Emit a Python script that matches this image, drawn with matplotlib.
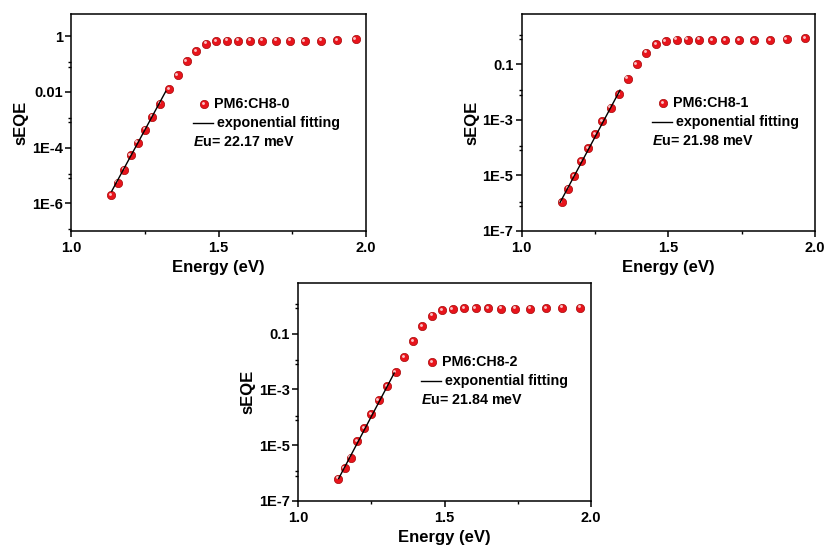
import matplotlib
matplotlib.use("Agg")
import matplotlib.pyplot as plt
import matplotlib.transforms as mtransforms
import numpy as np
from matplotlib.ticker import FixedLocator, FixedFormatter, NullFormatter

plt.rcParams["font.family"] = ["Liberation Sans", "DejaVu Sans"]
plt.rcParams["font.weight"] = "bold"
plt.rcParams["mathtext.fontset"] = "custom"
plt.rcParams["mathtext.rm"] = "Liberation Sans:bold"
plt.rcParams["mathtext.it"] = "Liberation Sans:bold:italic"

# photon energy grid (eV), shared by the three samples
energy = [1.136, 1.158, 1.179, 1.202, 1.226, 1.250, 1.275, 1.303, 1.333, 1.361,
          1.392, 1.424, 1.457, 1.491, 1.528, 1.566, 1.606, 1.648, 1.694, 1.742,
          1.792, 1.847, 1.903, 1.965]

seqe_0 = [2.0e-6, 5.5e-6, 1.6e-5, 5.5e-5, 1.5e-4, 4.4e-4, 1.3e-3, 3.8e-3, 1.26e-2, 4.1e-2,
          0.129, 0.30, 0.54, 0.66, 0.70, 0.70, 0.70, 0.70, 0.70, 0.70,
          0.66, 0.70, 0.74, 0.78]
seqe_1 = [1.1e-6, 3.3e-6, 9.5e-6, 3.3e-5, 9.8e-5, 3.0e-4, 8.7e-4, 2.7e-3, 8.5e-3, 3.0e-2,
          9.8e-2, 0.26, 0.51, 0.68, 0.76, 0.76, 0.76, 0.74, 0.74, 0.74,
          0.72, 0.74, 0.79, 0.83]
seqe_2 = [6.3e-7, 1.5e-6, 3.6e-6, 1.4e-5, 4.1e-5, 1.3e-4, 4.1e-4, 1.3e-3, 4.1e-3, 1.4e-2,
          5.5e-2, 0.18, 0.44, 0.68, 0.76, 0.83, 0.81, 0.79, 0.78, 0.78,
          0.78, 0.81, 0.85, 0.85]

sample_names = ["PM6:CH8-0", "PM6:CH8-1", "PM6:CH8-2"]
urbach_mev = [22.17, 21.98, 21.84]

# exponential tail fit: energy range and one anchor point (E, sEQE)
fit_range = [(1.138, 1.321), (1.131, 1.335), (1.138, 1.328)]
fit_anchor = [(1.230, 1.72e-4), (1.233, 1.11e-4), (1.233, 4.95e-5)]

# labelled decades (exponents) for each panel
major_exp = [[0, -2, -4, -6], [-1, -3, -5, -7], [-1, -3, -5, -7]]


def fmt_decade(k):
    if k == 0:
        return "1"
    if k >= -2:
        return f"{10.0 ** k:g}"
    return f"1E{k}"


RED = "#e8141c"


def sphere(ax, x, y, trans=None, size=36, zorder=3):
    trans = ax.transData if trans is None else trans
    ax.scatter(x, y, s=size, c=RED, edgecolors="#a50a0a", linewidths=0.5,
               transform=trans, zorder=zorder, clip_on=False)
    hl = mtransforms.offset_copy(trans, fig=ax.figure, x=-0.9, y=0.9, units="points")
    ax.scatter(x, y, s=size * 0.12, c="white", alpha=0.75, linewidths=0,
               transform=hl, zorder=zorder + 0.1, clip_on=False)


fig = plt.figure(figsize=(8.25, 5.47), dpi=100)
rects = [
    [0.0861, 0.5777, 0.3576, 0.3967],
    [0.6324, 0.5777, 0.3555, 0.3967],
    [0.3616, 0.0841, 0.3544, 0.3980],
]
# legend anchor (axes fraction): marker x, first row y, line start x
legend_pos = [(0.451, 0.585, 0.414), (0.482, 0.590, 0.445), (0.457, 0.638, 0.420)]

for i, seqe in enumerate([seqe_0, seqe_1, seqe_2]):
    ax = fig.add_axes(rects[i])
    ax.set_yscale("log")
    ax.set_xlim(1.0, 2.0)
    ax.set_ylim(1e-7, 6.3)

    sphere(ax, energy, seqe)

    e0, e1 = fit_range[i]
    ea, ya = fit_anchor[i]
    eu = urbach_mev[i] / 1000.0
    fe = np.array([e0, e1])
    ax.plot(fe, ya * np.exp((fe - ea) / eu), color="black", lw=1.0, zorder=4)

    # axis ticks
    ax.xaxis.set_major_locator(FixedLocator([1.0, 1.5, 2.0]))
    ax.xaxis.set_minor_locator(FixedLocator([1.25, 1.75]))
    ax.xaxis.set_major_formatter(FixedFormatter(["1.0", "1.5", "2.0"]))
    ax.xaxis.set_minor_formatter(NullFormatter())
    majors = major_exp[i]
    ax.yaxis.set_major_locator(FixedLocator([10.0 ** k for k in majors]))
    ax.yaxis.set_major_formatter(FixedFormatter([fmt_decade(k) for k in majors]))
    minors = []
    for k in range(-8, 2):
        if k in majors:
            continue
        minors += [10.0 ** (k - 0.1), 10.0 ** (k + 0.06)]
    ax.yaxis.set_minor_locator(FixedLocator(minors))
    ax.yaxis.set_minor_formatter(NullFormatter())
    ax.tick_params(which="major", direction="out", length=4.5, width=1.1,
                   labelsize=10.5, pad=1.5)
    ax.tick_params(which="minor", direction="out", length=2.5, width=1.0)
    ax.tick_params(axis="x", which="major", pad=2.5)
    for sp in ax.spines.values():
        sp.set_linewidth(1.1)

    ax.set_xlabel("Energy (eV)", fontsize=12, fontweight="bold", labelpad=4)
    ax.set_ylabel("sEQE", fontsize=12, fontweight="bold", labelpad=2.5)

    # legend block
    mx, y0, lx = legend_pos[i]
    dy = 0.087
    fs = 10.3
    sphere(ax, [mx], [y0], trans=ax.transAxes, zorder=5)
    ax.text(mx + 0.034, y0, sample_names[i], transform=ax.transAxes,
            fontsize=fs, fontweight="bold", va="center", ha="left")
    ax.plot([lx, lx + 0.068], [y0 - dy, y0 - dy], color="black", lw=1.0,
            transform=ax.transAxes)
    ax.text(lx + 0.08, y0 - dy, "exponential fitting", transform=ax.transAxes,
            fontsize=fs, fontweight="bold", va="center", ha="left")
    ax.text(lx, y0 - 2 * dy, f"$\\mathit{{E}}$u= {urbach_mev[i]:.2f} meV",
            transform=ax.transAxes, fontsize=fs, fontweight="bold",
            va="center", ha="left")

fig.savefig("out.png", dpi=100)
